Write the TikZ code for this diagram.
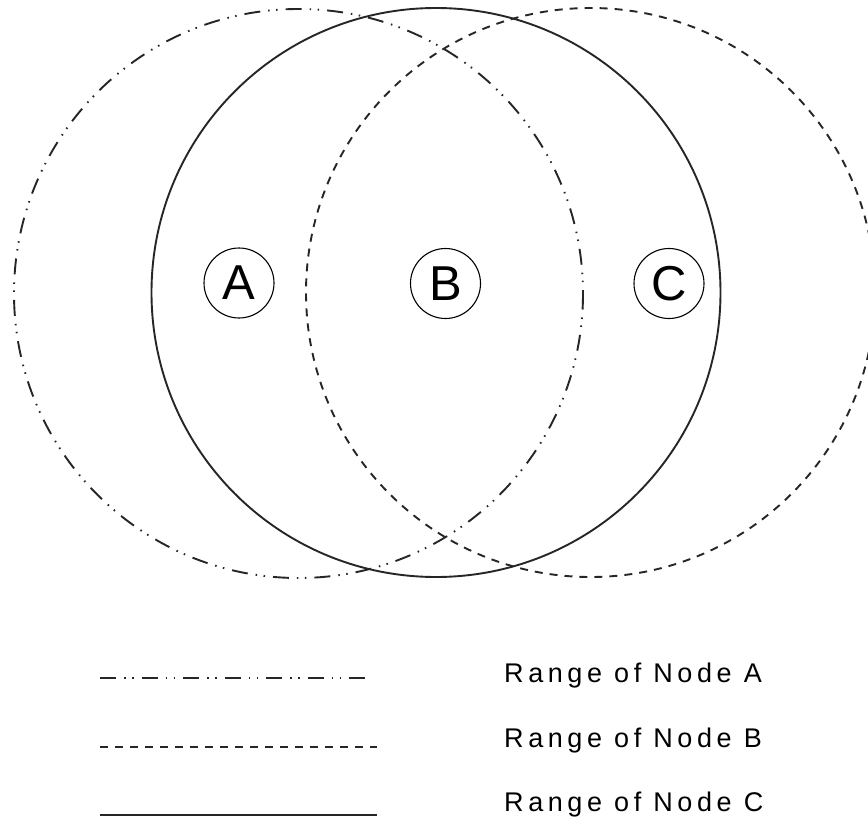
\documentclass[tikz,border=0pt]{standalone}
\usepackage{fontspec}
\setmainfont{Liberation Sans}
\newfontfamily\legfont[LetterSpace=17]{Liberation Sans}
\begin{document}
\begin{tikzpicture}[x=1pt,y=-1pt,
  rangeline/.style={line width=1.9pt,color=black!85},
  dashdotdot/.style={dash pattern=on 16pt off 8pt on 1.5pt off 6.5pt on 1.5pt off 8pt},
  shortdash/.style={dash pattern=on 8pt off 7pt},
  nodecircle/.style={circle,draw,line width=1.1pt,minimum size=70pt,inner sep=0pt,font=\fontsize{49}{49}\selectfont},
  legtext/.style={anchor=base west,inner sep=0pt,font=\legfont\fontsize{27}{27}\selectfont}]
\useasboundingbox (0,0) rectangle (868,827);
\fill[white] (0,0) rectangle (868,827);
\clip (0,0) rectangle (868,827);
% range centres
\coordinate (cA) at (298.5,293.5);
\coordinate (cB) at (436,292.5);
\coordinate (cC) at (590.5,292.5);
\draw[rangeline,dashdotdot] (cA) circle[radius=284.5];
\draw[rangeline] (cB) circle[radius=284.5];
\draw[rangeline,shortdash] (cC) circle[radius=284.5];
% nodes
\node[nodecircle] (A) at (239,283) {A};
\node[nodecircle] (B) at (445.5,283.5) {B};
\node[nodecircle] (C) at (669,283.5) {C};
% legend
\coordinate (l1s) at (100,678); \coordinate (l1e) at (372,678);
\coordinate (l2s) at (100,747); \coordinate (l2e) at (377,747);
\coordinate (l3s) at (100,815); \coordinate (l3e) at (377,815);
\draw[rangeline,dashdotdot] (l1s) -- (l1e);
\draw[rangeline,shortdash] (l2s) -- (l2e);
\draw[rangeline] (l3s) -- (l3e);
\node[legtext] (tA) at (504,682) {Range of Node A};
\node[legtext] (tB) at (504,747) {Range of Node B};
\node[legtext] (tC) at (504,811) {Range of Node C};
\end{tikzpicture}
\end{document}
